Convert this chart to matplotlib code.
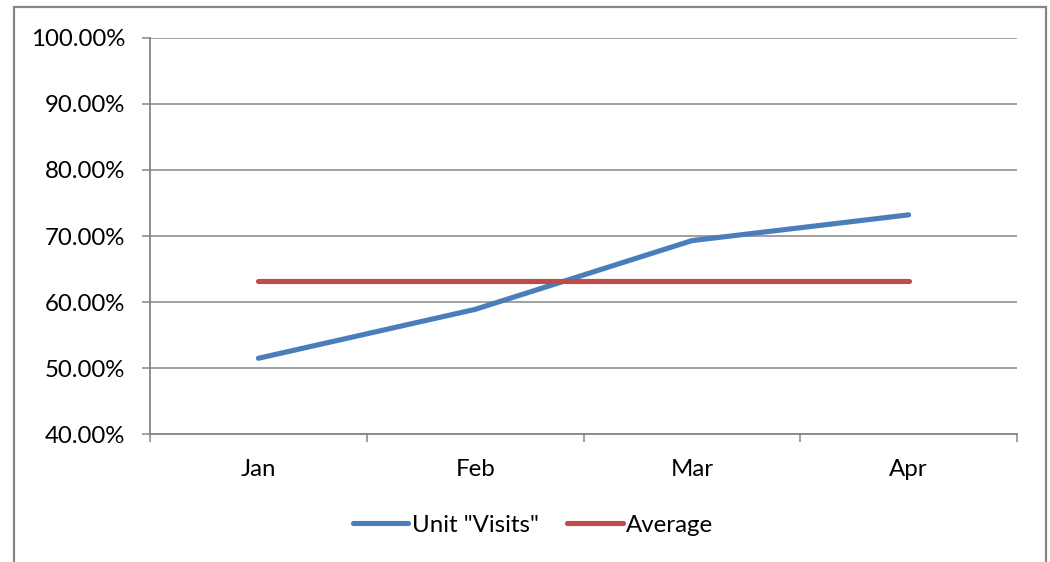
import matplotlib
matplotlib.use("Agg")
import matplotlib.pyplot as plt
from matplotlib.patches import Rectangle
from matplotlib.ticker import FixedLocator, PercentFormatter

months = ["Jan", "Feb", "Mar", "Apr"]
visits = [0.515, 0.589, 0.693, 0.732]
average = [0.632, 0.632, 0.632, 0.632]
y_ticks = [0.4, 0.5, 0.6, 0.7, 0.8, 0.9, 1.0]

plt.rcParams['font.family'] = ['Lato', 'DejaVu Sans']
FS = 17.3
GRAY = "#868686"

fig = plt.figure(figsize=(10.5, 5.62), dpi=100)
ax = fig.add_axes([150/1050, 1 - 434.3/562, (1017-150)/1050, (434.3-37.7)/562])

x = list(range(len(months)))
ax.plot(x, visits, color="#4A7EBB", lw=3.7, solid_capstyle="round",
        solid_joinstyle="round", label='Unit "Visits"', zorder=3)
ax.plot(x, average, color="#BE4B48", lw=3.7, solid_capstyle="round",
        label="Average", zorder=3)

ax.set_xlim(-0.5, len(months) - 0.5)
ax.set_ylim(0.4, 1.0)
ax.set_yticks(y_ticks)
ax.yaxis.set_major_formatter(PercentFormatter(1.0, decimals=2))
ax.grid(axis="y", color=GRAY, lw=1.1)
ax.set_axisbelow(True)

ax.set_xticks(x)
ax.set_xticklabels(months)
ax.xaxis.set_minor_locator(FixedLocator([i - 0.5 for i in range(len(months) + 1)]))
ax.tick_params(axis="x", which="major", length=0, pad=18, labelsize=FS)
ax.tick_params(axis="x", which="minor", length=6, width=1.1, color=GRAY)
ax.tick_params(axis="y", length=6, width=1.1, color=GRAY, pad=12, labelsize=FS)

for s in ["top", "right"]:
    ax.spines[s].set_visible(False)
for s in ["left", "bottom"]:
    ax.spines[s].set_color(GRAY)
    ax.spines[s].set_linewidth(1.3)

fig.legend(loc="center", bbox_to_anchor=(533/1050, 1 - 525/562), ncol=2,
           frameon=False, fontsize=FS, handlelength=2.3, handletextpad=0.15,
           columnspacing=1.2)

fig.patches.append(Rectangle((14/1050, -0.05), (1046-14)/1050, 1.05 - 7/562,
                             transform=fig.transFigure, fill=False,
                             edgecolor=GRAY, lw=1.6, clip_on=False))

fig.savefig("out.png", dpi=100)
